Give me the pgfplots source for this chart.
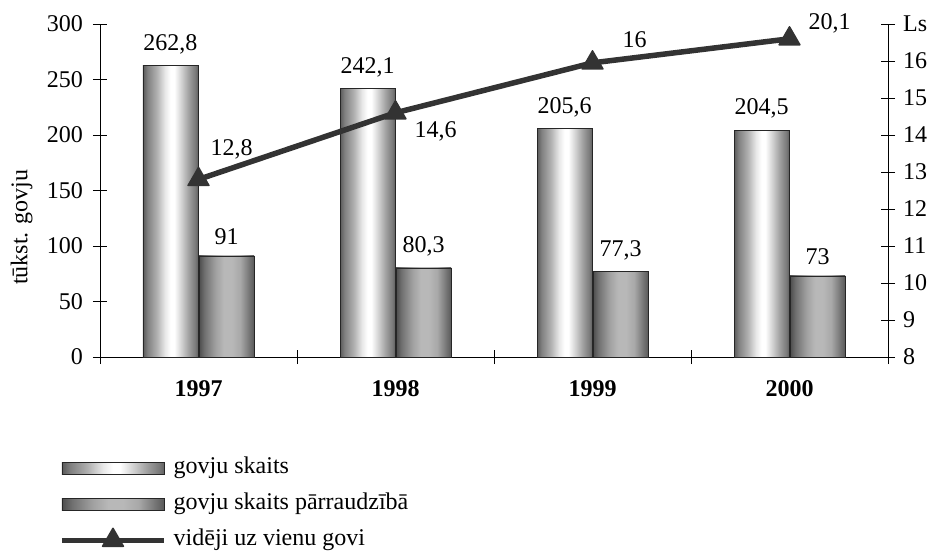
\documentclass[border=0pt]{standalone}
\usepackage{fontspec}
\setmainfont{Liberation Serif}
\usepackage{pgfplots}
\pgfplotsset{compat=1.18}
\definecolor{lineC}{HTML}{333333}
\pgfdeclarehorizontalshading{cylA}{100bp}{color(0bp)=(black!65); color(25bp)=(black!65); color(29bp)=(black!50); color(37.5bp)=(black!31); color(45bp)=(black!9); color(50bp)=(white); color(53.5bp)=(white); color(60bp)=(black!18); color(66.5bp)=(black!37); color(72.5bp)=(black!52); color(75bp)=(black!62); color(100bp)=(black!62)}
\pgfdeclarehorizontalshading{cylB}{100bp}{color(0bp)=(black!70); color(25bp)=(black!70); color(30bp)=(black!56); color(40bp)=(black!37); color(47.5bp)=(black!28); color(55bp)=(black!28); color(62.5bp)=(black!34); color(69bp)=(black!50); color(75bp)=(black!65); color(100bp)=(black!65)}
\pgfplotsset{/pgf/number format/assume math mode=true,
  barA/.style={ybar, bar width=55pt, bar shift=-28pt, draw=black!85, line width=0.7pt, shading=cylA,
    every node near coord/.append style={xshift=-28pt}},
  barB/.style={ybar, bar width=55pt, bar shift=28pt, draw=black!85, line width=0.7pt, shading=cylB,
    every node near coord/.append style={xshift=28pt}}}
\begin{document}
\fontsize{24}{28}\selectfont
\begin{tikzpicture}
\useasboundingbox (0,0) rectangle (936pt,555pt);
\begin{axis}[
  at={(100pt,198pt)}, anchor=south west, scale only axis,
  width=788pt, height=333pt,
  xmin=-0.5, xmax=3.5, ymin=0, ymax=300,
  axis x line*=bottom, axis y line*=left,
  axis line style={black, line width=0.8pt},
  xtick={0,1,2,3},
  xticklabels={\textbf{1997},\textbf{1998},\textbf{1999},\textbf{2000}},
  major x tick style={draw=none},
  minor xtick={-0.5,0.5,1.5,2.5,3.5},
  ytick={0,50,100,150,200,250,300},
  tick align=center, major tick length=14pt, minor tick length=14pt,
  tick style={black, line width=0.8pt},
  xticklabel style={anchor=center, yshift=-25pt},
  yticklabel style={anchor=east, xshift=-2pt},
  ylabel={tūkst. govju},
  ylabel style={at={(ticklabel cs:0.39)}},
  ylabel shift=-2pt,
  clip=false,
  nodes near coords,
  every node near coord/.append style={yshift=3pt},
  /pgf/number format/.cd, use comma, fixed, precision=1, 1000 sep={},
  /pgfplots/.cd,
  legend style={at={(-0.0558,-0.296)}, anchor=north west, draw=none, fill=none,
    row sep=15pt, nodes={inner sep=0pt, text height=16pt, text depth=5pt},
    /tikz/every odd column/.style={column sep=7pt}},
  legend cell align=left,
]
\addplot[barA, legend image code/.code={\draw[draw=black!85, line width=0.7pt, shading=cylA] (0pt,-6pt) rectangle (102pt,6pt);}]
  coordinates {(0,262.8)};
\addlegendentry{govju skaits}
\addplot[barB, legend image code/.code={\draw[draw=black!85, line width=0.7pt, shading=cylB] (0pt,-6pt) rectangle (102pt,6pt);}]
  coordinates {(0,91)};
\addlegendentry{govju skaits pārraudzībā}
\addplot[barA, forget plot] coordinates {(1,242.1)};
\addplot[barA, forget plot] coordinates {(2,205.6)};
\addplot[barA, forget plot] coordinates {(3,204.5)};
\addplot[barB, forget plot] coordinates {(1,80.3)};
\addplot[barB, forget plot] coordinates {(2,77.3)};
\addplot[barB, forget plot] coordinates {(3,73)};
\addlegendimage{legend image code/.code={
  \draw[lineC, line width=5.5pt] (0pt,0pt) -- (102pt,0pt);
  \begin{pgfinterruptboundingbox}
  \begin{scope}[shift={(51pt,0pt)}]
  \pgfsetplotmarksize{12pt}\pgfsetlinewidth{1.5pt}\pgfsetroundjoin
  \pgfsetstrokecolor{lineC}\pgfsetfillcolor{lineC}\pgfuseplotmark{triangle*}
  \end{scope}
  \end{pgfinterruptboundingbox}}}
\addlegendentry{vidēji uz vienu govi}
\end{axis}
\begin{axis}[
  at={(100pt,198pt)}, anchor=south west, scale only axis,
  width=788pt, height=333pt,
  xmin=-0.5, xmax=3.5, ymin=8, ymax=17,
  axis x line=none, axis y line*=right,
  axis line style={black, line width=0.8pt},
  ytick={8,9,10,11,12,13,14,15,16,17},
  yticklabels={8,9,10,11,12,13,14,15,16,Ls},
  tick align=center, major tick length=14pt,
  tick style={black, line width=0.8pt},
  yticklabel style={anchor=west, xshift=0pt},
  clip=false,
]
\addplot[lineC, line width=5.5pt, mark=triangle*, mark size=12pt,
  mark options={solid, line width=1.5pt, line join=round, fill=lineC}]
  coordinates {(0,12.8) (1,14.6) (2,15.95) (3,16.6)};
\node at (axis cs:0,12.8) [xshift=33pt, yshift=30pt] {12,8};
\node at (axis cs:1,14.6) [xshift=40pt, yshift=-19pt] {14,6};
\node at (axis cs:2,15.95) [xshift=42pt, yshift=23pt] {16};
\node at (axis cs:3,16.6) [xshift=40pt, yshift=15pt] {20,1};
\end{axis}
\end{tikzpicture}
\end{document}
